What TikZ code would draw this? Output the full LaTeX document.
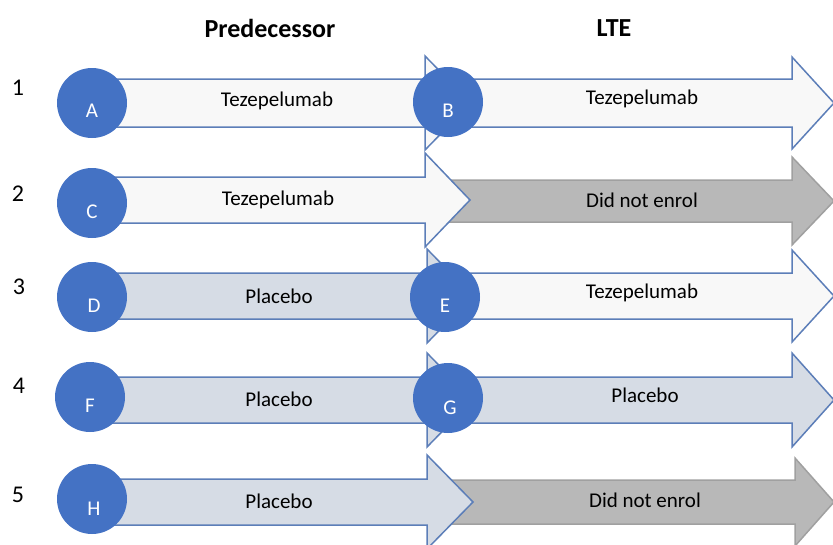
\documentclass[tikz,border=0pt]{standalone}
\usepackage{fontspec}
\setmainfont{Carlito}
\definecolor{circblue}{RGB}{68,114,196}
\definecolor{arrline}{RGB}{92,126,184}
\definecolor{whitefill}{RGB}{248,248,248}
\definecolor{placfill}{RGB}{214,220,229}
\definecolor{grayfill}{RGB}{184,184,184}
\definecolor{grayline}{RGB}{160,160,160}
\newcommand\bigarrow[8]{% style, x1, xb, xt, y, h, H, name
  \draw[#1] (#2,#5-#6) -- (#3,#5-#6) -- (#3,#5-#7) -- (#4,#5) coordinate (#8) -- (#3,#5+#7) -- (#3,#5+#6) -- (#2,#5+#6) -- cycle;}
\begin{document}
\begin{tikzpicture}[x=1pt,y=-1pt,
  whitearr/.style={fill=whitefill,draw=arrline,line width=1.5pt,line join=miter},
  placarr/.style={fill=placfill,draw=arrline,line width=1.5pt,line join=miter},
  grayarr/.style={fill=grayfill,draw=grayline,line width=1.5pt,line join=miter},
  circ/.style={circle,fill=circblue,minimum size=70pt,inner sep=0pt},
  lettr/.style={anchor=base,text=white,font=\fontsize{21}{25}\selectfont},
  lbl/.style={anchor=base,font=\fontsize{21}{25}\selectfont},
  rownum/.style={anchor=base,font=\fontsize{24}{28}\selectfont},
  head/.style={anchor=base,font=\fontsize{26}{30}\selectfont\bfseries}]
\useasboundingbox (0,0) rectangle (833,544);
% headers
\node[head] (hpred) at (270,37) {Predecessor};
\node[head] (hlte) at (614,36) {LTE};
% row numbers
\node[rownum] (n1) at (18,95) {1};
\node[rownum] (n2) at (18,201) {2};
\node[rownum] (n3) at (19,294) {3};
\node[rownum] (n4) at (19,393) {4};
\node[rownum] (n5) at (18,502) {5};
% row 1
\bigarrow{whitearr}{425}{792}{834}{103}{24}{46}{t1r}
\bigarrow{whitearr}{110}{425}{471}{103}{24}{47}{t1l}
% row 2
\bigarrow{grayarr}{440}{792}{834}{201}{21}{44}{t2r}
\bigarrow{whitearr}{110}{425}{470}{200}{23}{47}{t2l}
% row 3
\bigarrow{whitearr}{427}{792}{834}{296}{23}{46}{t3r}
\bigarrow{placarr}{110}{427}{473}{296}{23}{47}{t3l}
% row 4
\bigarrow{placarr}{427}{792}{834}{400}{23}{47}{t4r}
\bigarrow{placarr}{110}{427}{473}{400}{23}{47}{t4l}
% row 5
\bigarrow{grayarr}{440}{795}{834}{502}{22}{44}{t5r}
\bigarrow{placarr}{110}{427}{473}{502}{23}{47}{t5l}
% labels
\node[lbl] (l1a) at (277,106) {Tezepelumab};
\node[lbl] (l1b) at (642,104) {Tezepelumab};
\node[lbl] (l2a) at (278,205) {Tezepelumab};
\node[lbl] (l2b) at (642,207) {Did not enrol};
\node[lbl] (l3a) at (279,303) {Placebo};
\node[lbl] (l3b) at (642,298) {Tezepelumab};
\node[lbl] (l4a) at (279,406) {Placebo};
\node[lbl] (l4b) at (645,402) {Placebo};
\node[lbl] (l5a) at (279,508) {Placebo};
\node[lbl] (l5b) at (645,507) {Did not enrol};
% circles
\node[circ] (A) at (92,103) {};
\node[circ] (B) at (448,102) {};
\node[circ] (C) at (92,203) {};
\node[circ] (D) at (92,297) {};
\node[circ] (E) at (445,297) {};
\node[circ] (F) at (90,397) {};
\node[circ] (G) at (448,398) {};
\node[circ] (H) at (92,499) {};
\node[lettr] (tA) at ([yshift=-14pt]A.center) {A};
\node[lettr] (tB) at ([yshift=-15pt]B.center) {B};
\node[lettr] (tC) at ([yshift=-15pt]C.center) {C};
\node[lettr] (tD) at ([yshift=-15pt,xshift=2pt]D.center) {D};
\node[lettr] (tE) at ([yshift=-15pt]E.center) {E};
\node[lettr] (tF) at ([yshift=-15pt]F.center) {F};
\node[lettr] (tG) at ([yshift=-16pt,xshift=2pt]G.center) {G};
\node[lettr] (tH) at ([yshift=-16pt,xshift=2pt]H.center) {H};
\end{tikzpicture}
\end{document}
